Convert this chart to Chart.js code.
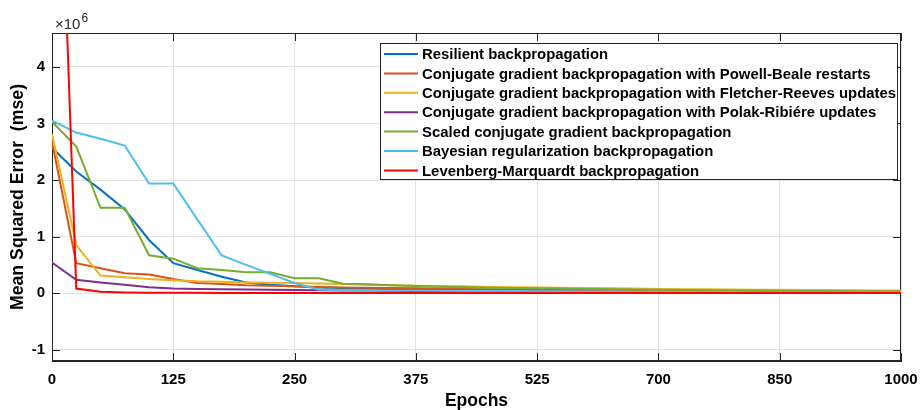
<!DOCTYPE html>
<html>
<head>
<meta charset="utf-8">
<script src="https://cdn.jsdelivr.net/npm/chart.js@4.4.1/dist/chart.umd.min.js"></script>
<style>
  body { margin: 0; background: #fff; }
  #wrap { width: 921px; height: 410px; }
</style>
</head>
<body>
<div id="wrap"><canvas id="mseChart" width="921" height="410"></canvas></div>
<script>
// x axis: 36 recorded points (0..35), ticks every 5 points, labelled in epochs
var tickLabels = ['0', '125', '250', '375', '525', '700', '850', '1000']
var yTicks = [-1, 0, 1, 2, 3, 4]

// series values, in units of 10^6
var resilient = [2.57, 2.15, 1.83, 1.48, 0.94, 0.53, 0.41, 0.29, 0.19, 0.15, 0.12, 0.10, 0.09, 0.08, 0.07, 0.065, 0.06, 0.055, 0.05, 0.045, 0.04, 0.035, 0.03, 0.03, 0.028, 0.026, 0.024, 0.022, 0.02, 0.02, 0.018, 0.017, 0.016, 0.015, 0.015, 0.015]
var powellBeale = [2.68, 0.53, 0.44, 0.35, 0.33, 0.25, 0.18, 0.16, 0.14, 0.13, 0.12, 0.11, 0.10, 0.095, 0.09, 0.085, 0.08, 0.075, 0.07, 0.065, 0.06, 0.058, 0.055, 0.052, 0.05, 0.048, 0.046, 0.044, 0.042, 0.04, 0.038, 0.037, 0.036, 0.035, 0.034, 0.033]
var fletcherReeves = [2.81, 0.85, 0.31, 0.28, 0.25, 0.23, 0.21, 0.20, 0.19, 0.185, 0.18, 0.17, 0.16, 0.15, 0.14, 0.13, 0.125, 0.12, 0.11, 0.105, 0.10, 0.095, 0.09, 0.085, 0.08, 0.075, 0.07, 0.068, 0.065, 0.062, 0.06, 0.057, 0.054, 0.051, 0.048, 0.045]
var polakRibiere = [0.54, 0.235, 0.19, 0.147, 0.106, 0.08, 0.075, 0.07, 0.065, 0.06, 0.055, 0.05, 0.048, 0.045, 0.042, 0.04, 0.037, 0.035, 0.032, 0.03, 0.028, 0.026, 0.024, 0.022, 0.02, 0.019, 0.018, 0.017, 0.016, 0.015, 0.014, 0.013, 0.012, 0.011, 0.01, 0.01]
var scaledConj = [3.03, 2.59, 1.51, 1.51, 0.67, 0.61, 0.44, 0.41, 0.37, 0.37, 0.265, 0.265, 0.165, 0.155, 0.14, 0.125, 0.115, 0.105, 0.095, 0.09, 0.085, 0.08, 0.075, 0.07, 0.065, 0.06, 0.055, 0.05, 0.048, 0.045, 0.042, 0.04, 0.037, 0.035, 0.032, 0.03]
var bayesian = [3.05, 2.84, 2.73, 2.61, 1.94, 1.94, 1.30, 0.665, 0.50, 0.34, 0.18, 0.06, 0.055, 0.05, 0.048, 0.045, 0.042, 0.04, 0.038, 0.036, 0.034, 0.032, 0.03, 0.028, 0.026, 0.024, 0.022, 0.02, 0.018, 0.016, 0.015, 0.014, 0.013, 0.012, 0.011, 0.01]
var levenberg = [12.1, 0.08, 0.023, 0.012, 0.008, 0.006, 0.005, 0.004, 0.003, 0.003, 0.002, 0.002, 0.002, 0.002, 0.001, 0.001, 0.001, 0.001, 0.001, 0.001, 0.001, 0.001, 0.001, 0.001, 0.001, 0.001, 0.001, 0.001, 0.001, 0.001, 0.001, 0.001, 0.001, 0.001, 0.001, 0.001]

var seriesNames = [
    'Resilient backpropagation',
    'Conjugate gradient backpropagation with Powell-Beale restarts',
    'Conjugate gradient backpropagation with Fletcher-Reeves updates',
    'Conjugate gradient backpropagation with Polak-Ribiére updates',
    'Scaled conjugate gradient backpropagation',
    'Bayesian regularization backpropagation',
    'Levenberg-Marquardt backpropagation'
]
var seriesValues = [resilient, powellBeale, fletcherReeves, polakRibiere, scaledConj, bayesian, levenberg]
var seriesColors = ['#0072BD', '#D95319', '#EDB120', '#7E2F8E', '#77AC30', '#4DBEEE', '#FF0000']

var FONT = '"Liberation Sans", Arial, Helvetica, sans-serif'
var AXIS = '#262626'

// inner tick marks and the full box round the axes (matlab style)
var axisBox = {
    id: 'axisBox',
    beforeDatasetsDraw: function (chart) {
        var ctx = chart.ctx, a = chart.chartArea
        var x = chart.scales.x, y = chart.scales.y
        ctx.save()
        ctx.strokeStyle = AXIS
        ctx.lineWidth = 1
        ctx.beginPath()
        x.ticks.forEach(function (t) {
            var px = Math.round(x.getPixelForValue(t.value)) + 0.5
            ctx.moveTo(px, a.bottom); ctx.lineTo(px, a.bottom - 8)
            ctx.moveTo(px, a.top); ctx.lineTo(px, a.top + 8)
        })
        y.ticks.forEach(function (t) {
            var py = Math.round(y.getPixelForValue(t.value)) + 0.5
            ctx.moveTo(a.left, py); ctx.lineTo(a.left + 8, py)
            ctx.moveTo(a.right, py); ctx.lineTo(a.right - 8, py)
        })
        ctx.stroke()
        ctx.strokeRect(Math.round(a.left) + 0.5, Math.round(a.top) + 0.5, Math.round(a.width) - 1, Math.round(a.height) - 1)

        // exponent label
        ctx.fillStyle = AXIS
        ctx.textBaseline = 'alphabetic'
        ctx.textAlign = 'left'
        ctx.font = '15px ' + FONT
        ctx.fillText('\u00d710', a.left + 3, 29)
        var w = ctx.measureText('\u00d710').width
        ctx.font = '12px ' + FONT
        ctx.fillText('6', a.left + 3 + w + 1, 22)
        ctx.restore()
    }
}

// legend box in the upper right
var boxLegend = {
    id: 'boxLegend',
    afterDraw: function (chart) {
        var ctx = chart.ctx
        var left = 380, top = 43, width = 518, height = 137
        ctx.save()
        ctx.fillStyle = '#fff'
        ctx.fillRect(left, top, width, height)
        ctx.strokeStyle = AXIS
        ctx.lineWidth = 1
        ctx.strokeRect(left + 0.5, top + 0.5, width - 1, height - 1)
        ctx.font = 'bold 14.9px ' + FONT
        ctx.textBaseline = 'middle'
        ctx.textAlign = 'left'
        chart.data.datasets.forEach(function (ds, i) {
            var cy = 54 + i * 19.4
            ctx.strokeStyle = ds.borderColor
            ctx.lineWidth = 2
            ctx.beginPath()
            ctx.moveTo(384, cy); ctx.lineTo(418, cy)
            ctx.stroke()
            ctx.fillStyle = '#000'
            ctx.fillText(ds.label, 422, cy + 1)
        })
        ctx.restore()
    }
}

var datasets = seriesValues.map(function (vals, i) {
    return {
        label: seriesNames[i],
        data: vals.map(function (v, k) { return { x: k, y: v } }),
        borderColor: seriesColors[i],
        backgroundColor: seriesColors[i],
        borderWidth: 2,
        pointRadius: 0,
        tension: 0,
        order: seriesValues.length - i
    }
})

var ctx = document.getElementById('mseChart').getContext('2d')
var chart = new Chart(ctx, {
    type: 'line',
    data: { datasets: datasets },
    options: {
        responsive: false,
        animation: false,
        devicePixelRatio: 1,
        layout: { padding: { left: 0, top: 33, right: 20, bottom: 0 } },
        plugins: { legend: { display: false }, tooltip: { enabled: false } },
        scales: {
            x: {
                type: 'linear',
                min: 0,
                max: 35,
                afterBuildTicks: function (scale) {
                    scale.ticks = tickLabels.map(function (l, i) { return { value: i * 5 } })
                },
                afterFit: function (scale) {
                    scale.height = 49
                    scale.paddingLeft = 0
                    scale.paddingRight = 0
                },
                grid: { color: '#e3e3e3', drawTicks: false },
                border: { display: true, color: AXIS, width: 1 },
                ticks: {
                    padding: 10,
                    autoSkip: false,
                    maxRotation: 0,
                    color: '#000',
                    font: { family: FONT, size: 15, weight: 'bold' },
                    callback: function (v) { return tickLabels[Math.round(v / 5)] }
                },
                title: {
                    display: true,
                    text: 'Epochs',
                    color: '#000',
                    padding: { top: 0, bottom: 0 },
                    font: { family: FONT, size: 17.5, weight: 'bold', lineHeight: 1 }
                }
            },
            y: {
                min: -1.2,
                max: 4.6,
                afterBuildTicks: function (scale) {
                    scale.ticks = yTicks.map(function (v) { return { value: v } })
                },
                afterFit: function (scale) {
                    scale.width = 52
                    scale.paddingTop = 0
                    scale.paddingBottom = 0
                },
                grid: { color: '#e3e3e3', drawTicks: false },
                border: { display: true, color: AXIS, width: 1 },
                ticks: {
                    padding: 7,
                    color: '#000',
                    font: { family: FONT, size: 15, weight: 'bold' },
                    callback: function (v) { return String(v) }
                },
                title: {
                    display: true,
                    text: 'Mean Squared Error  (mse)',
                    color: '#000',
                    padding: { top: 9, bottom: 0 },
                    font: { family: FONT, size: 17.7, weight: 'bold', lineHeight: 1 }
                }
            }
        }
    },
    plugins: [axisBox, boxLegend]
})
</script>
</body>
</html>
